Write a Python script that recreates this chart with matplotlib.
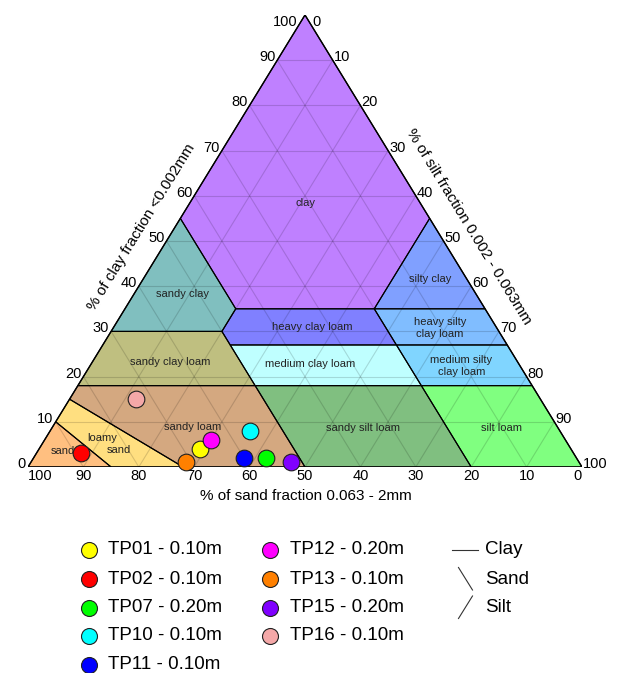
import matplotlib
matplotlib.use("Agg")
from matplotlib import pyplot as plt
from matplotlib.patches import Polygon
import numpy as np

plt.rcParams['font.family'] = ['Liberation Sans', 'DejaVu Sans']

# sample points: % sand, % silt, % clay
muestras = ['TP01 - 0.10m', 'TP02 - 0.10m', 'TP07 - 0.20m', 'TP10 - 0.10m', 'TP11 - 0.10m',
            'TP12 - 0.20m', 'TP13 - 0.10m', 'TP15 - 0.20m', 'TP16 - 0.10m']
arena = [67, 89, 56, 56, 60, 64, 71, 52, 73]
limo = [29, 8, 42, 36, 38, 30, 28, 47, 12]
arcilla = [4, 3, 2, 8, 2, 6, 1, 1, 15]
colores = ['#ffff00', '#ff0000', '#00ff00', '#00ffff', '#0000ff',
           '#ff00ff', '#ff8000', '#8000ff', '#f4a8a8']

# texture classes, vertices as (sand, silt, clay)
clases = ['clay', 'sandy clay', 'silty clay', 'heavy clay loam', 'heavy silty clay loam',
          'sandy clay loam', 'medium clay loam', 'medium silty clay loam', 'sandy loam',
          'sandy silt loam', 'silt loam', 'loamy sand', 'sand']
vertices = [
    [(45, 0, 55), (0, 0, 100), (0, 45, 55), (20, 45, 35), (45, 20, 35)],
    [(45, 0, 55), (45, 20, 35), (50, 20, 30), (70, 0, 30)],
    [(0, 45, 55), (0, 65, 35), (20, 45, 35)],
    [(45, 20, 35), (20, 45, 35), (20, 53, 27), (50, 23, 27), (50, 20, 30)],
    [(20, 45, 35), (0, 65, 35), (0, 73, 27), (20, 53, 27)],
    [(70, 0, 30), (50, 20, 30), (50, 32, 18), (82, 0, 18)],
    [(50, 23, 27), (20, 53, 27), (20, 62, 18), (50, 32, 18)],
    [(20, 53, 27), (0, 73, 27), (0, 82, 18), (20, 62, 18)],
    [(82, 0, 18), (50, 32, 18), (50, 50, 0), (72, 28, 0), (85, 0, 15)],
    [(50, 32, 18), (20, 62, 18), (20, 80, 0), (50, 50, 0)],
    [(20, 62, 18), (0, 82, 18), (0, 100, 0), (20, 80, 0)],
    [(85, 0, 15), (72, 28, 0), (85, 15, 0), (90, 0, 10)],
    [(90, 0, 10), (85, 15, 0), (100, 0, 0)],
]
colores_clase = ['#bf80ff', '#80bfbf', '#80a0ff', '#8080ff', '#80bdff',
                 '#bfbf80', '#bfffff', '#80d5ff', '#d4a880',
                 '#80bf80', '#80ff80', '#ffdf80', '#ffbf80']

ticks = [0, 10, 20, 30, 40, 50, 60, 70, 80, 90, 100]


def tern(silt, clay):
    # cartesian position inside the triangle (0..100 in both directions)
    return silt + clay / 2.0, clay


fig = plt.figure(figsize=(6.21, 6.73), dpi=100)
ax = fig.add_axes([28 / 621, (673 - 467) / 673, 554 / 621, 452 / 673])
ax.set_xlim(0, 100)
ax.set_ylim(0, 100)
ax.axis('off')

# fills
for nombre, verts, col in zip(clases, vertices, colores_clase):
    pts = [tern(v[1], v[2]) for v in verts]
    ax.add_patch(Polygon(pts, closed=True, facecolor=col, edgecolor='none', zorder=1))

# grid lines
for t in ticks[1:-1]:
    gk = dict(color='black', alpha=0.15, lw=0.8, zorder=2)
    x1, y1 = tern(0, t); x2, y2 = tern(100 - t, t)
    ax.plot([x1, x2], [y1, y2], **gk)  # constant clay
    x1, y1 = tern(0, 100 - t); x2, y2 = tern(100 - t, 0)
    ax.plot([x1, x2], [y1, y2], **gk)  # constant sand
    x1, y1 = tern(t, 0); x2, y2 = tern(t, 100 - t)
    ax.plot([x1, x2], [y1, y2], **gk)  # constant silt

# class boundaries
for verts in vertices:
    pts = [tern(v[1], v[2]) for v in verts]
    ax.add_patch(Polygon(pts, closed=True, facecolor='none', edgecolor='black', lw=0.8, zorder=3))
ax.add_patch(Polygon([tern(0, 0), tern(100, 0), tern(0, 100)], closed=True,
                     facecolor='none', edgecolor='black', lw=1.0, zorder=3))

# class labels (cartesian positions)
etiquetas = [('clay', 50.0, 58.4), ('sandy clay', 27.8, 38.3), ('silty clay', 72.6, 41.6),
             ('heavy clay loam', 51.3, 31.0), ('heavy silty\nclay loam', 74.4, 30.8),
             ('medium clay loam', 50.9, 22.8), ('medium silty\nclay loam', 78.2, 22.3),
             ('sandy clay loam', 25.6, 23.2), ('sandy loam', 29.8, 8.8),
             ('sandy silt loam', 60.5, 8.6), ('silt loam', 85.4, 8.6),
             ('loamy', 13.4, 6.4), ('sand', 16.4, 3.8), ('sand', 6.3, 3.5)]
for txt, x, y in etiquetas:
    ax.text(x, y, txt, fontsize=8, ha='center', va='center', color='#222222',
            zorder=4, linespacing=1.25)

# tick labels
tk = dict(fontsize=10.5, textcoords='offset pixels', annotation_clip=False)
for t in ticks:
    # sand along the bottom
    ha = 'center'
    if t == 100:
        ha = 'left'
    if t == 0:
        ha = 'right'
    ax.annotate(str(t), xy=tern(100 - t, 0), xytext=(0, -13), ha=ha, va='baseline', **tk)
    # clay along the left
    if t == 100:
        ax.annotate(str(t), xy=tern(0, t), xytext=(-8, -11), ha='right', va='baseline', **tk)
    else:
        ax.annotate(str(t), xy=tern(0, t), xytext=(-2, -1), ha='right', va='baseline', **tk)
    # silt along the right
    if t == 0:
        ax.annotate(str(t), xy=tern(t, 100 - t), xytext=(7, -11), ha='left', va='baseline', **tk)
    else:
        ax.annotate(str(t), xy=tern(t, 100 - t), xytext=(1, -1), ha='left', va='baseline', **tk)

# sample points
for i in range(len(muestras)):
    x, y = tern(limo[i], arcilla[i])
    ax.plot(x, y, marker='o', markersize=12, markerfacecolor=colores[i],
            markeredgecolor='#202020', markeredgewidth=0.8, clip_on=False, zorder=5)

# overlay in pixel coordinates for titles and legend
ov = fig.add_axes([0, 0, 1, 1])
ov.set_xlim(0, 621)
ov.set_ylim(673, 0)
ov.axis('off')

ang = np.degrees(np.arctan2(452, 277))
ov.text(306, 496, '% of sand fraction 0.063 - 2mm', fontsize=11, ha='center', va='center')
ov.text(141.5, 227.5, '% of clay fraction <0.002mm', fontsize=11, ha='center', va='center',
        rotation=ang, rotation_mode='anchor')
ov.text(469, 227, '% of silt fraction 0.002 - 0.063mm', fontsize=11, ha='center', va='center',
        rotation=-ang, rotation_mode='anchor')

filas = [550, 579, 607.5, 636, 664.5]
for i, nombre in enumerate(muestras):
    col = i // 5
    fila = i % 5
    xm = 88.5 if col == 0 else 270
    ov.plot(xm, filas[fila], marker='o', markersize=11.5, markerfacecolor=colores[i],
            markeredgecolor='#202020', markeredgewidth=0.8)
    ov.text(xm + 19.5, filas[fila], nombre, fontsize=13.5, ha='left', va='center')

ov.plot([452, 478], [550, 550], color='#333333', lw=0.8)
ov.plot([458.5, 472.5], [567.5, 590], color='#333333', lw=0.8)
ov.plot([472.5, 458.5], [596, 618.5], color='#333333', lw=0.8)
for txt, y in zip(['Clay', 'Sand', 'Silt'], filas[:3]):
    ov.text(485, y, txt, fontsize=13.5, ha='left', va='center')

fig.savefig('out.png', dpi=100)
